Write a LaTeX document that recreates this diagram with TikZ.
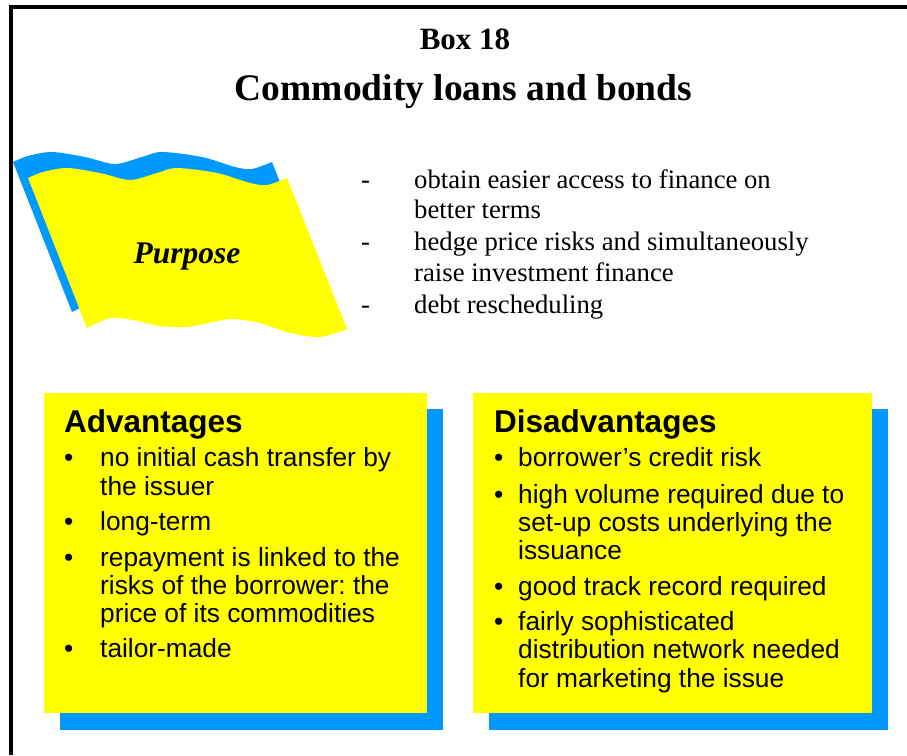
\documentclass[tikz,border=0pt]{standalone}
\usepackage{fontspec}
\setmainfont{Liberation Serif}
\newfontfamily\arialf{Liberation Sans}
\frenchspacing
\definecolor{flagyellow}{RGB}{255,255,0}
\definecolor{shadowblue}{RGB}{0,153,255}
\newcommand{\flagshape}{plot[smooth] coordinates {(28,178) (43,172) (67,168) (100,173) (130,180) (157,173) (177,168) (217,173) (250,183) (267,185) (287,178)} -- plot[smooth] coordinates {(347,329) (320,337) (290,333) (260,323) (233,319) (213,322) (187,327) (160,326) (133,320) (110,318) (87,328)} -- cycle}
\tikzset{
  bodytxt/.style={anchor=base west, inner sep=0pt, font=\arialf\fontsize{26.3}{28}\selectfont},
  purptxt/.style={anchor=base west, inner sep=0pt, font=\fontsize{26.7}{31}\selectfont},
  headtxt/.style={anchor=base west, inner sep=0pt, font=\arialf\fontsize{31.5}{34}\selectfont\bfseries},
  ybox/.style={fill=flagyellow},
  bshadow/.style={fill=shadowblue}
}
\begin{document}
\begin{tikzpicture}[x=1pt,y=-1pt]
\useasboundingbox (0,0) rectangle (907,755);
\fill[white] (0,0) rectangle (907,755);
% frame
\fill[black] (9,5) rectangle (907,9);
\fill[black] (9,5) rectangle (13,755);
% titles
\node[anchor=base, inner sep=0pt, font=\fontsize{31}{34}\selectfont\bfseries] (box) at (465,49) {Box 18};
\node[anchor=base, inner sep=0pt, font=\fontsize{37.5}{40}\selectfont\bfseries] (title) at (463.5,100) {Commodity loans and bonds};
% flag
\fill[shadowblue, shift={(-15,-16)}] \flagshape;
\fill[flagyellow] \flagshape;
\node[anchor=base, inner sep=0pt, font=\fontsize{31.5}{34}\selectfont\bfseries\itshape] (purpose) at (187,263) {Purpose};
% purpose list
\node[purptxt] (d1) at (361,188) {-};
\node[purptxt] (p1) at (414,188) {obtain easier access to finance on};
\node[purptxt] (p1b) at (414,218.5) {better terms};
\node[purptxt] (d2) at (361,250) {-};
\node[purptxt] (p2) at (414,250) {hedge price risks and simultaneously};
\node[purptxt] (p2b) at (414,281) {raise investment finance};
\node[purptxt] (d3) at (361,313) {-};
\node[purptxt] (p3) at (414,313) {debt rescheduling};
% advantages box
\fill[bshadow] (60,409) rectangle (443,730);
\fill[ybox] (44,393) rectangle (427,713);
\node[headtxt] (advh) at (64,432) {Advantages};
\node[bodytxt] (ab1) at (64,466.5) {•};
\node[bodytxt] (a1) at (100,466.5) {no initial cash transfer by};
\node[bodytxt] (a1b) at (100,495) {the issuer};
\node[bodytxt] (ab2) at (64,530.5) {•};
\node[bodytxt] (a2) at (100,530.5) {long-term};
\node[bodytxt] (ab3) at (64,566) {•};
\node[bodytxt] (a3) at (100,566) {repayment is linked to the};
\node[bodytxt] (a3b) at (100,594) {risks of the borrower: the};
\node[bodytxt] (a3c) at (100,622.5) {price of its commodities};
\node[bodytxt] (ab4) at (64,657.5) {•};
\node[bodytxt] (a4) at (100,657.5) {tailor-made};
% disadvantages box
\fill[bshadow] (489,409) rectangle (888,730);
\fill[ybox] (473,393) rectangle (872,713);
\node[headtxt] (dish) at (494,432) {Disadvantages};
\node[bodytxt] (db1) at (494,466.5) {•};
\node[bodytxt] (e1) at (518,466.5) {borrower’s credit risk};
\node[bodytxt] (db2) at (494,503) {•};
\node[bodytxt] (e2) at (518,503) {high volume required due to};
\node[bodytxt] (e2b) at (518,531) {set-up costs underlying the};
\node[bodytxt] (e2c) at (518,559) {issuance};
\node[bodytxt] (db3) at (494,595) {•};
\node[bodytxt] (e3) at (518,595) {good track record required};
\node[bodytxt] (db4) at (494,630) {•};
\node[bodytxt] (e4) at (518,630) {fairly sophisticated};
\node[bodytxt] (e4b) at (518,658.5) {distribution network needed};
\node[bodytxt] (e4c) at (518,687) {for marketing the issue};
\end{tikzpicture}
\end{document}
